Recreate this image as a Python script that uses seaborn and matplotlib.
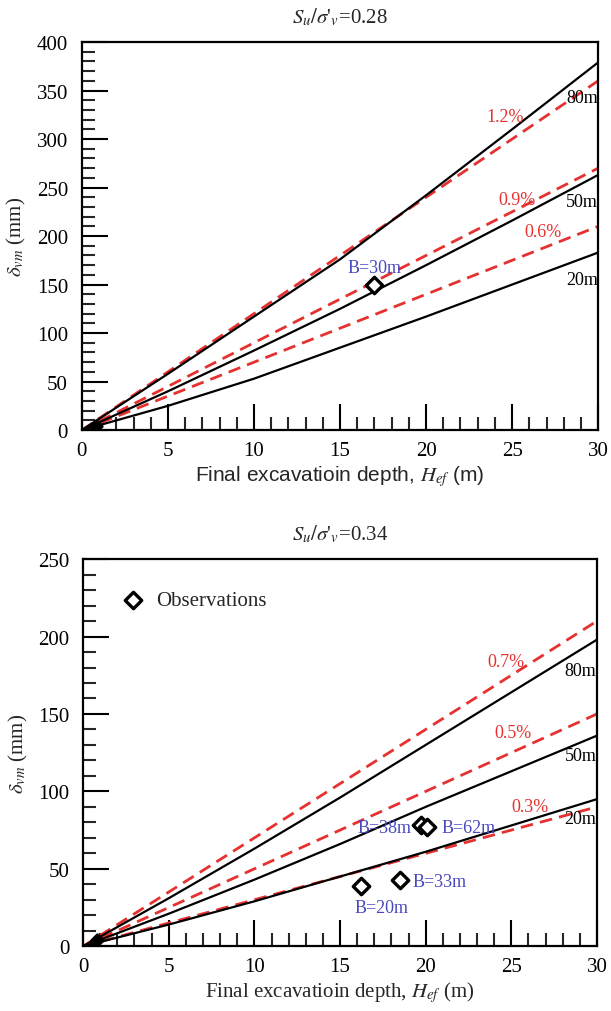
import numpy as np
import pandas as pd
import matplotlib
matplotlib.use("Agg")
import matplotlib.pyplot as plt
from matplotlib.ticker import MultipleLocator
import seaborn as sns

sns.set_theme(style="white")
plt.rcParams['font.family'] = ['Liberation Serif', 'DejaVu Serif']
plt.rcParams['mathtext.fontset'] = 'stix'

RED = '#e5312f'
BLUE = '#4848c0'

# ---------------- data ----------------
x_pts = [0, 5, 10, 15, 20, 25, 30]
# panel 1 : Su/s'v = 0.28
p1_b80 = [0, 58, 117, 176, 242, 310, 379]
p1_b50 = [0, 40, 82, 125, 170, 216, 263]
p1_b20 = [0, 25, 53, 85, 117, 150, 183]
p1_dash_x = [0, 30]
p1_d12 = [0, 360]
p1_d09 = [0, 270]
p1_d06 = [0, 210]
p1_obs_x = [17.0]
p1_obs_y = [150]
p1_obs_lab = ['B=30m']

# panel 2 : Su/s'v = 0.34
p2_b80 = [0, 31, 63, 96, 130, 164, 198]
p2_b50 = [0, 21, 43, 66, 90, 113, 136]
p2_b20 = [0, 14, 29, 45, 61, 78, 95]
p2_d07 = [0, 210]
p2_d05 = [0, 150]
p2_d03 = [0, 90]
p2_obs_x = [16.2, 18.5, 19.7, 20.1]
p2_obs_y = [39, 43, 78, 77]
p2_obs_lab = ['B=20m', 'B=33m', 'B=38m', 'B=62m']

origin_x = [0.8]
origin_y = [4]

fig = plt.figure(figsize=(6.11, 10.12), dpi=100)
ax1 = fig.add_axes([0.134, 0.574, 0.845, 0.3835])
ax2 = fig.add_axes([0.136, 0.064, 0.841, 0.3825])


def style(ax, ymax, ymajor):
    ax.set_xlim(0, 30)
    ax.set_ylim(0, ymax)
    ax.xaxis.set_major_locator(MultipleLocator(5))
    ax.xaxis.set_minor_locator(MultipleLocator(1))
    ax.yaxis.set_major_locator(MultipleLocator(ymajor))
    ax.yaxis.set_minor_locator(MultipleLocator(10))
    ax.tick_params(which='major', direction='in', length=19, width=1.5,
                   labelsize=15, pad=8, bottom=True, left=True, top=False, right=False,
                   colors='black')
    ax.tick_params(which='minor', direction='in', length=9.5, width=1.5,
                   bottom=True, left=True, top=False, right=False)
    ax.tick_params(axis='y', pad=10)
    for s in ax.spines.values():
        s.set_linewidth(1.6)
        s.set_color('black')
        s.set_visible(True)
    ax.grid(False)


def draw_black(ax, ys):
    for y in ys:
        df = pd.DataFrame({'x': x_pts, 'y': y})
        sns.lineplot(data=df, x='x', y='y', ax=ax, color='black', lw=1.6, sort=False)


def draw_dash(ax, ys):
    for y in ys:
        df = pd.DataFrame({'x': p1_dash_x, 'y': y})
        sns.lineplot(data=df, x='x', y='y', ax=ax, color=RED, lw=2.0, sort=False,
                     linestyle=(0, (4.5, 2.6)))


def draw_obs(ax, xs, ys, label=None):
    df = pd.DataFrame({'x': xs, 'y': ys})
    sns.scatterplot(data=df, x='x', y='y', ax=ax, marker='D', s=70,
                    facecolor='white', edgecolor='black', linewidth=2.4,
                    zorder=5, label=label, clip_on=False)


def sub_title(ax, val):
    ax.set_title(r"$S_u/\sigma$'$_v$=" + val, fontsize=15, pad=14)


# ---------------- panel 1 ----------------
draw_dash(ax1, [p1_d12, p1_d09, p1_d06])
draw_black(ax1, [p1_b80, p1_b50, p1_b20])
draw_obs(ax1, p1_obs_x, p1_obs_y)
sns.scatterplot(x=origin_x, y=origin_y, ax=ax1, marker='D', s=35, color='black',
                edgecolor='black', linewidth=2, zorder=5)
style(ax1, 400, 50)
kw = dict(fontsize=13)
ax1.text(29.97, 343, '80m', ha='right', va='center', color='black', **kw)
ax1.text(24.6, 323, '1.2%', ha='center', va='center', color=RED, **kw)
ax1.text(25.3, 238, '0.9%', ha='center', va='center', color=RED, **kw)
ax1.text(29.97, 236, '50m', ha='right', va='center', color='black', **kw)
ax1.text(26.8, 205, '0.6%', ha='center', va='center', color=RED, **kw)
ax1.text(29.97, 155, '20m', ha='right', va='center', color='black', **kw)
ax1.text(17.0, 168, p1_obs_lab[0], ha='center', va='center', color=BLUE, **kw)
sub_title(ax1, '0.28')
ax1.set_xlabel(r"Final excavatioin depth, $H_{ef}$ (m)", fontsize=15,
               family=['Liberation Sans', 'DejaVu Sans'], labelpad=2)
ax1.set_ylabel(r"$\delta_{vm}$ (mm)", fontsize=15, labelpad=6)

# ---------------- panel 2 ----------------
draw_dash(ax2, [p2_d07, p2_d05, p2_d03])
draw_black(ax2, [p2_b80, p2_b50, p2_b20])
draw_obs(ax2, p2_obs_x, p2_obs_y, label='Observations')
sns.scatterplot(x=origin_x, y=origin_y, ax=ax2, marker='D', s=35, color='black',
                edgecolor='black', linewidth=2, zorder=5)
style(ax2, 250, 50)
ax2.text(24.7, 184, '0.7%', ha='center', va='center', color=RED, **kw)
ax2.text(29.97, 178, '80m', ha='right', va='center', color='black', **kw)
ax2.text(25.1, 138, '0.5%', ha='center', va='center', color=RED, **kw)
ax2.text(29.97, 123, '50m', ha='right', va='center', color='black', **kw)
ax2.text(26.1, 90, '0.3%', ha='center', va='center', color=RED, **kw)
ax2.text(29.97, 82.5, '20m', ha='right', va='center', color='black', **kw)
ax2.text(17.4, 25, 'B=20m', ha='center', va='center', color=BLUE, **kw)
ax2.text(20.8, 42, 'B=33m', ha='center', va='center', color=BLUE, **kw)
ax2.text(17.6, 77, 'B=38m', ha='center', va='center', color=BLUE, **kw)
ax2.text(22.5, 77, 'B=62m', ha='center', va='center', color=BLUE, **kw)
sub_title(ax2, '0.34')
ax2.set_xlabel(r"Final excavatioin depth, $H_{ef}$ (m)", fontsize=15, labelpad=2)
ax2.set_ylabel(r"$\delta_{vm}$ (mm)", fontsize=15, labelpad=6)
leg = ax2.legend(loc='upper left', bbox_to_anchor=(0.04, 0.94), frameon=False,
                 fontsize=15, handletextpad=0.1, borderaxespad=0)
if ax1.get_legend() is not None:
    ax1.get_legend().remove()

fig.savefig('out.png', dpi=100)
